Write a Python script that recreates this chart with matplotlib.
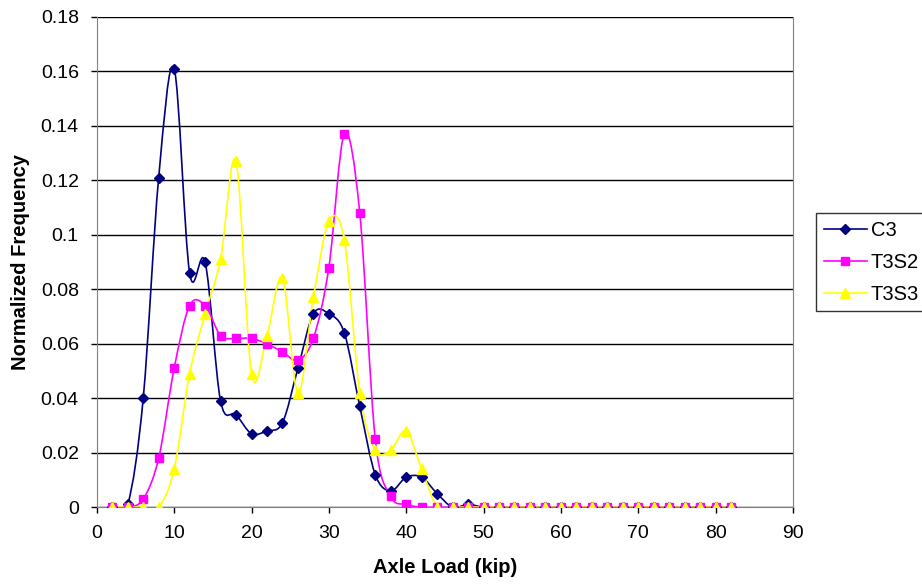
import numpy as np
import matplotlib.pyplot as plt
from matplotlib.path import Path
from matplotlib.patches import PathPatch
from matplotlib.lines import Line2D

plt.rcParams['font.family'] = ['Liberation Sans', 'DejaVu Sans']

axle_load = list(range(2, 84, 2))

c3 = [0, 0.001, 0.040, 0.121, 0.161, 0.086, 0.090, 0.039, 0.034, 0.027,
      0.028, 0.031, 0.051, 0.071, 0.071, 0.064, 0.037, 0.012, 0.006, 0.011,
      0.011, 0.005, 0, 0.001] + [0] * 17
t3s2 = [0, 0, 0.003, 0.018, 0.051, 0.074, 0.074, 0.063, 0.062, 0.062,
        0.060, 0.057, 0.054, 0.062, 0.088, 0.137, 0.108, 0.025, 0.004, 0.001] + [0] * 21
t3s3 = [0, 0, 0, 0, 0.014, 0.049, 0.071, 0.091, 0.127, 0.049,
        0.063, 0.084, 0.042, 0.077, 0.105, 0.098, 0.042, 0.021, 0.021, 0.028,
        0.014] + [0] * 20

series = [("C3", c3, "#000080", "D", 5.5),
          ("T3S2", t3s2, "#FF00FF", "s", 6),
          ("T3S3", t3s3, "#FFFF00", "^", 7)]


def smooth_path(x, y):
    # Catmull-Rom style curve like Excel "smoothed line"
    pts = np.column_stack([x, y]).astype(float)
    n = len(pts)
    verts = [pts[0]]
    codes = [Path.MOVETO]
    for i in range(n - 1):
        p0 = pts[i - 1] if i > 0 else pts[i]
        p1 = pts[i]
        p2 = pts[i + 1]
        p3 = pts[i + 2] if i + 2 < n else pts[i + 1]
        c1 = p1 + (p2 - p0) / 6
        c2 = p2 - (p3 - p1) / 6
        verts += [c1, c2, p2]
        codes += [Path.CURVE4] * 3
    return Path(verts, codes)


fig = plt.figure(figsize=(9.22, 5.85), dpi=100)
ax = fig.add_axes([0.105, 0.133, 0.755, 0.838])

for name, vals, col, mk, ms in series:
    patch = PathPatch(smooth_path(axle_load, vals), facecolor='none',
                      edgecolor=col, lw=1.2, zorder=3)
    ax.add_patch(patch)
    ax.plot(axle_load, vals, ls='none', marker=mk, color=col, ms=ms,
            markeredgecolor=col, zorder=4)

ax.set_xlim(0, 90)
ax.set_ylim(0, 0.18)
ax.set_xticks(np.arange(0, 91, 10))
ax.set_yticks(np.arange(0, 0.181, 0.02))
ax.set_yticklabels(["0", "0.02", "0.04", "0.06", "0.08", "0.1", "0.12",
                    "0.14", "0.16", "0.18"])
ax.grid(axis='y', color='black', lw=1)
ax.set_axisbelow(True)
ax.tick_params(direction='out', length=4, labelsize=14, width=1)
ax.tick_params(axis='x', pad=9)
ax.tick_params(axis='y', pad=9)
ax.spines['top'].set_visible(False)
ax.spines['right'].set_color('#808080')
ax.spines['left'].set_color('#808080')
ax.spines['bottom'].set_color('#808080')
ax.set_xlabel("Axle Load (kip)", fontsize=14.5, fontweight='bold', labelpad=11)
ax.set_ylabel("Normalized Frequency", fontsize=14.5, fontweight='bold', labelpad=8)

handles = [Line2D([], [], color=c, marker=m, ms=s, lw=1.2) for _, _, c, m, s in series]
leg = fig.legend(handles, [s[0] for s in series], loc='upper left',
                 bbox_to_anchor=(0.885, 0.636), frameon=True, fancybox=False,
                 fontsize=14.5, handlelength=2.15, handletextpad=0.2,
                 borderpad=0.38, labelspacing=0.65, borderaxespad=0)
leg.get_frame().set_edgecolor('black')
leg.get_frame().set_linewidth(1)

fig.savefig("out.png", dpi=100)
